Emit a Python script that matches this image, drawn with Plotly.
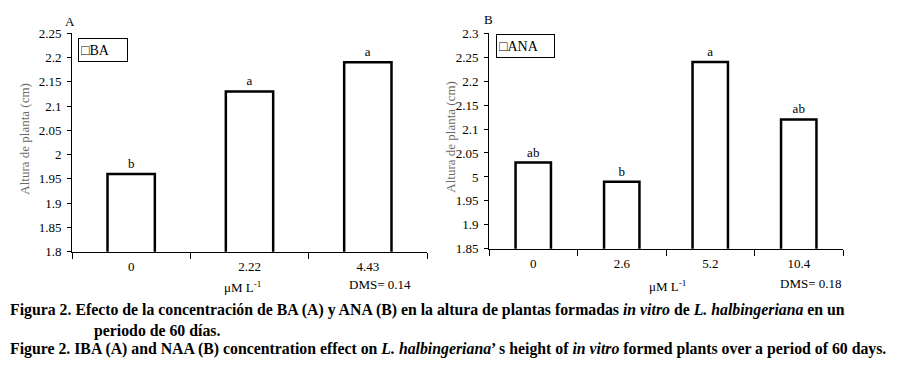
import plotly.graph_objects as go

# Data
cats_a = ["0", "2.22", "4.43"]
vals_a = [1.96, 2.13, 2.19]
letters_a = ["b", "a", "a"]

cats_b = ["0", "2.6", "5.2", "10.4"]
vals_b = [2.03, 1.99, 2.24, 2.12]
letters_b = ["ab", "b", "a", "ab"]

yticks_a = [1.8, 1.85, 1.9, 1.95, 2.0, 2.05, 2.1, 2.15, 2.2, 2.25]
yticktext_a = ["1.8", "1.85", "1.9", "1.95", "2", "2.05", "2.1", "2.15", "2.2", "2.25"]
yticks_b = [1.85, 1.9, 1.95, 2.0, 2.05, 2.1, 2.15, 2.2, 2.25, 2.3]
yticktext_b = ["1.85", "1.9", "1.95", "5", "2.05", "2.1", "2.15", "2.2", "2.25", "2.3"]

# page body has an 8px margin: figure is offset by (8, 8)
OFF = 8
W, H = 897 - OFF, 368 - OFF
SERIF = "Liberation Serif, Times New Roman, serif"

def px(x):
    return (x - OFF) / W

def py(y):
    return (H - (y - OFF)) / H

fig = go.Figure()

fig.add_trace(go.Bar(
    x=list(range(len(cats_a))), y=vals_a, width=0.4,
    marker=dict(color="white", line=dict(color="black", width=2.5)),
    text=letters_a, textposition="outside", cliponaxis=False,
    textfont=dict(family=SERIF, size=13, color="black"),
    xaxis="x", yaxis="y", showlegend=False, name="BA"))

fig.add_trace(go.Bar(
    x=list(range(len(cats_b))), y=vals_b, width=0.4,
    marker=dict(color="white", line=dict(color="black", width=2.5)),
    text=letters_b, textposition="outside", cliponaxis=False,
    textfont=dict(family=SERIF, size=13, color="black"),
    xaxis="x2", yaxis="y2", showlegend=False, name="ANA"))

def xaxis_cfg(cats, domain, anchor):
    return dict(
        domain=domain, anchor=anchor,
        range=[-0.5, len(cats) - 0.5],
        tickmode="array", tickvals=list(range(len(cats))), ticktext=cats,
        ticks="", ticklabelstandoff=3, showgrid=False, zeroline=False,
        showline=True, linecolor="black", linewidth=1,
        tickfont=dict(family=SERIF, size=13, color="black"),
        minor=dict(tickmode="linear", tick0=-0.5, dtick=1, ticks="outside",
                   ticklen=6, tickwidth=1, tickcolor="black", showgrid=False),
        fixedrange=True,
    )

def yaxis_cfg(tv, tt, domain, anchor):
    return dict(
        domain=domain, anchor=anchor,
        range=[tv[0], tv[-1]],
        tickmode="array", tickvals=tv, ticktext=tt,
        ticks="outside", ticklen=4, tickwidth=1, tickcolor="black",
        ticklabelstandoff=3,
        showgrid=False, zeroline=False,
        showline=True, linecolor="black", linewidth=1,
        tickfont=dict(family=SERIF, size=13, color="black"),
        fixedrange=True,
    )

fig.update_layout(
    width=W, height=H,
    margin=dict(l=0, r=0, t=0, b=0),
    paper_bgcolor="white", plot_bgcolor="white",
    showlegend=False,
    xaxis=xaxis_cfg(cats_a, [px(72), px(427)], "y"),
    yaxis=yaxis_cfg(yticks_a, yticktext_a, [py(255), py(27)], "x"),
    xaxis2=xaxis_cfg(cats_b, [px(489), px(843)], "y2"),
    yaxis2=yaxis_cfg(yticks_b, yticktext_b, [py(252), py(27)], "x2"),
)

ann = []
def add_text(text, x, y, size=13, xanchor="center", yanchor="middle", color="black", **kw):
    ann.append(dict(text=text, x=px(x), y=py(y), xref="paper", yref="paper",
                    xanchor=xanchor, yanchor=yanchor, showarrow=False,
                    font=dict(family=SERIF, size=size, color=color), **kw))

# Axis titles
add_text("Altura de planta (cm)", 25, 137, color="#6a6a6a", textangle=-90)
add_text("Altura de planta (cm)", 451, 135, color="#6a6a6a", textangle=-90)
# Panel letters
add_text("A", 70, 15)
add_text("B", 488, 13)
# Legends
add_text("\u25a1BA", 78, 44.5, size=14, xanchor="left", bordercolor="black", borderwidth=1,
         borderpad=2, width=44, height=18, align="left")
add_text("\u25a1ANA", 496, 40.5, size=14, xanchor="left", bordercolor="black", borderwidth=1,
         borderpad=2, width=53, height=18, align="left")
# Units and DMS
add_text("\u03bcM L<sup>-1</sup>", 242, 292, size=13)
add_text("DMS= 0.14", 380, 289, size=13)
add_text("\u03bcM L<sup>-1</sup>", 667, 291, size=13)
add_text("DMS= 0.18", 811, 288, size=13)

# Caption
cap_font = 15.8
add_text("<b>Figura 2. Efecto de la concentración de BA (A) y ANA (B) en la altura de plantas formadas "
         "<i>in vitro</i> de <i>L. halbingeriana</i> en un</b>", 8, 316, size=cap_font, xanchor="left")
add_text("<b>periodo de 60 días.</b>", 92, 338, size=cap_font, xanchor="left")
add_text("<b>Figure 2. IBA (A) and NAA (B) concentration effect on <i>L. halbingeriana</i>’ s height of "
         "<i>in vitro</i> formed plants over a period of 60 days.</b>", 8, 357, size=cap_font, xanchor="left")

fig.update_layout(annotations=ann)
fig.write_html("out.html")
